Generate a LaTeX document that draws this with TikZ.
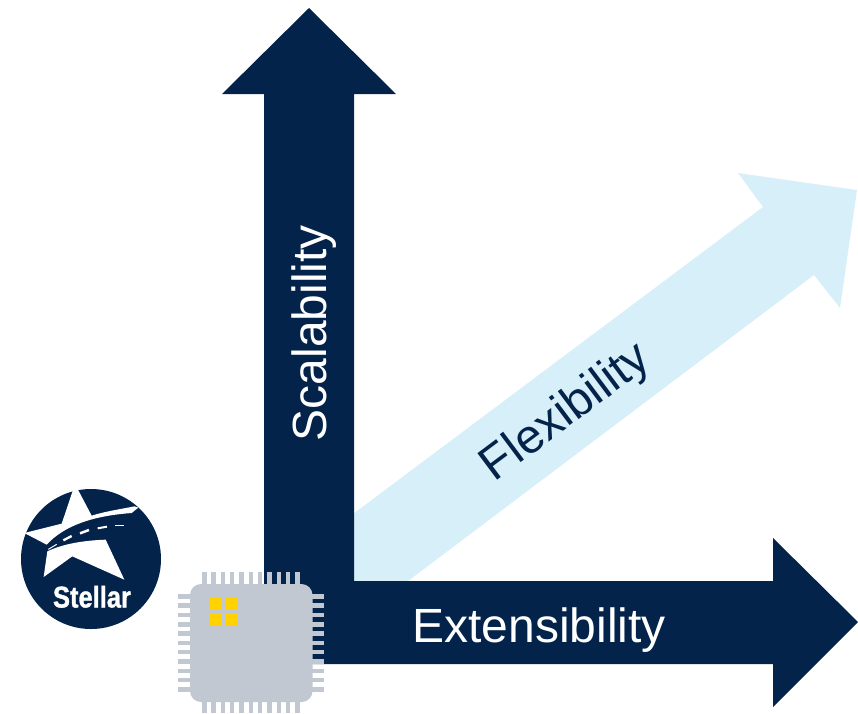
\documentclass[tikz,border=0pt]{standalone}
\usepackage{fontspec}
\usepackage{graphicx}
\setmainfont{Liberation Sans}
\newfontfamily\stellarfont{Liberation Sans Bold}[FakeBold=1.2]
\definecolor{navy}{HTML}{03234B}
\definecolor{skyb}{HTML}{D7EFF9}
\definecolor{chipg}{HTML}{C1C8D2}
\definecolor{chipy}{HTML}{FFD200}
\tikzset{
  bigarrow/.style={fill=navy,draw=none},
  lightarrow/.style={fill=skyb,draw=none},
  axislabel/.style={font=\fontsize{48}{50}\selectfont,anchor=base,inner sep=0pt},
  pinrect/.style={fill=chipg,draw=none},
  logoshape/.style={fill=white,draw=none}
}
\begin{document}
\begin{tikzpicture}[x=1pt,y=-1pt]
\useasboundingbox (0,0) rectangle (858,713);
% flexibility arrow
\fill[lightarrow] (353,514) -- (763,207) -- (738,173) -- (857,190) -- (840,308) -- (814,275) -- (408,581) -- (353,581) -- cycle;
% scalability and extensibility arrows
\fill[bigarrow] (264,664) -- (264,94) -- (222,94) -- (309,8) -- (396,94) -- (354,94) -- (354,581) -- (773,581) -- (773,538) -- (858,622) -- (773,707) -- (773,664) -- cycle;
\node[axislabel,text=white,rotate=90] (scal) at (326,333) {Scalability};
\node[axislabel,text=white] (ext) at (539,642) {Extensibility};
\node[axislabel,text=navy,rotate=36.8] (flex) at (574,423) {Flexibility};
% logo
\fill[navy] (91,559) circle[radius=70];
\begin{scope}[shift={(15,483)},x=0.33333pt,y=-0.33333pt]
\fill[logoshape] (28,150) -- (140,122) -- (172,27) -- (176,18) -- (188,16) -- (190,22) -- (230,98)
  .. controls (270,85) and (320,78) .. (358,70) -- (370,74) -- (350,90)
  .. controls (240,98) and (150,125) .. (95,185) -- cycle;
\fill[logoshape] (97,205) .. controls (150,180) and (215,172) .. (272,170) -- (328,290) -- (172,220) -- (86,282) -- cycle;
\draw[white,line width=1pt] (100,199) -- (125,184);
\draw[white,line width=2.3pt] (145,172) -- (170,159);
\draw[white,line width=2.5pt] (195,151) -- (222,141);
\draw[white,line width=2pt] (248,136) -- (276,131);
\draw[white,line width=1pt] (300,128) -- (326,128);
\end{scope}
\node[inner sep=0pt,anchor=base,text=white,font=\fontsize{30}{31}\stellarfont] (stellar) at (92,607.5) {\scalebox{.85}[1]{Stellar}};
% chip
\foreach \i in {0,...,10}{
  \fill[pinrect] ({202+\i*9.33},572) rectangle ({206.5+\i*9.33},590);
  \fill[pinrect] ({202+\i*9.33},696) rectangle ({206.5+\i*9.33},713);
  \fill[pinrect] (178,{594+\i*9.33}) rectangle (196,{598.5+\i*9.33});
  \fill[pinrect] (306,{594+\i*9.33}) rectangle (323.5,{598.5+\i*9.33});
}
\fill[chipg,rounded corners=11pt] (190,584) rectangle (312.5,702);
\fill[chipy] (210,598) rectangle (222,610);
\fill[chipy] (226,598) rectangle (238,610);
\fill[chipy] (210,614) rectangle (222,626);
\fill[chipy] (226,614) rectangle (238,626);
\end{tikzpicture}
\end{document}
